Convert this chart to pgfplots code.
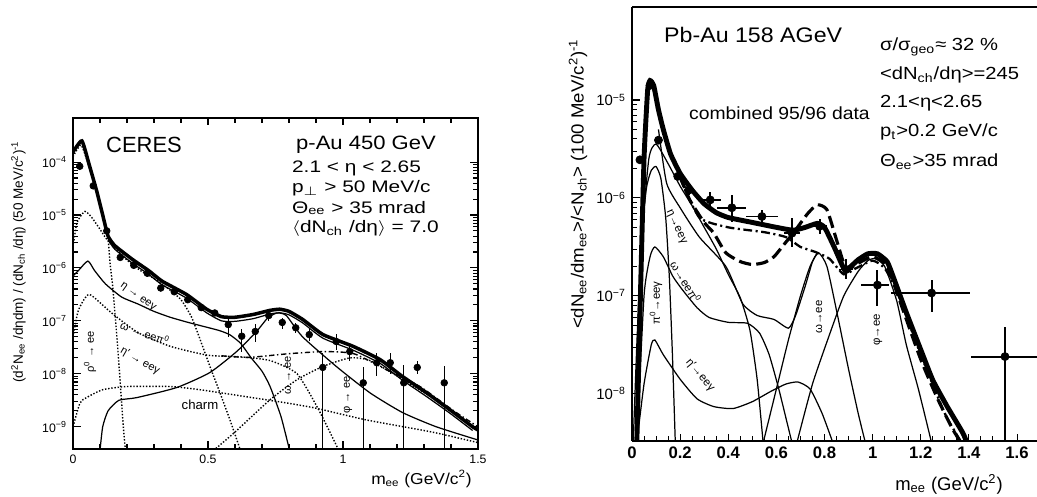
\documentclass[border=0pt]{standalone}
\usepackage{pgfplots}
\pgfplotsset{compat=1.18}
\usepackage{fontspec}
\setmainfont{Liberation Sans}

\tikzset{
  thin curve/.style={black, line width=0.7pt, smooth, tension=0.35},
  dot curve/.style={black, line width=0.8pt, densely dotted, smooth, tension=0.35},
  dd curve/.style={black, line width=0.8pt, dash pattern=on 3pt off 1.5pt on 0.8pt off 1.5pt, smooth, tension=0.35},
}
\newcommand\fs[1]{\fontsize{#1}{#1}\selectfont}
\newcommand\wide[2][1.2]{\scalebox{#1}[1]{#2}}

\begin{document}
\begin{tikzpicture}
\useasboundingbox (0,0) rectangle (20.74,9.94);

% ---------------- left: p-Au ----------------
\begin{axis}[name=L, at={(1.46cm,0.96cm)}, anchor=south west,
  scale only axis, enlargelimits=false, ymode=log,
  width=8.10cm, height=6.62cm,
  axis line style={line width=1.1pt},
  every tick/.style={black, line width=0.6pt}, tick align=inside,
  xmin=0, xmax=1.5, ymin=3.8e-10, ymax=6.8e-4,
  xtick={0,0.5,1,1.5}, xticklabels={0,0.5,1,1.5}, minor x tick num=4,
  ytick={1e-9,1e-8,1e-7,1e-6,1e-5,1e-4},
  yticklabels={10\textsuperscript{−9},10\textsuperscript{−8},10\textsuperscript{−7},10\textsuperscript{−6},10\textsuperscript{−5},10\textsuperscript{−4}},
  tick label style={font=\fs{7}},
]
% total
\addplot[black, line width=2pt, no marks, smooth, tension=0.3] coordinates {
 (0,1.55e-4) (0.033,2.51e-4) (0.06,8.91e-5) (0.089,2.69e-5) (0.11,1e-5) (0.13,3.98e-6)
 (0.155,2.63e-6) (0.22,1.45e-6) (0.28,8.91e-7) (0.33,5.62e-7) (0.42,3.16e-7) (0.495,1.66e-7)
 (0.55,1.2e-7) (0.6,1.17e-7) (0.667,1.32e-7) (0.73,1.58e-7) (0.766,1.66e-7) (0.8,1.51e-7)
 (0.85,1.07e-7) (0.926,5.5e-8) (1.037,3.31e-8) (1.137,1.86e-8) (1.22,8.91e-9) (1.31,4.37e-9)
 (1.396,2.09e-9) (1.48,1e-9) (1.5,8.71e-10)};
\addplot[thin curve, no marks] coordinates {
 (0.13,3.4e-6) (0.155,2.25e-6) (0.22,1.23e-6) (0.28,7.6e-7) (0.33,4.8e-7) (0.42,2.7e-7)
 (0.495,1.42e-7) (0.55,1.0e-7) (0.6,9.8e-8) (0.667,1.1e-7) (0.73,1.35e-7) (0.766,1.42e-7)
 (0.8,1.3e-7) (0.85,9.2e-8) (0.926,4.7e-8) (1.037,2.8e-8) (1.137,1.58e-8) (1.22,7.6e-9)
 (1.31,3.7e-9) (1.396,1.8e-9) (1.48,8.5e-10)};
% pi0 Dalitz
\addplot[dot curve, no marks] coordinates {
 (0,1.26e-4) (0.03,2.09e-4) (0.06,7.94e-5) (0.09,2.40e-5) (0.12,6.31e-6) (0.13,3.55e-6)
 (0.137,1.26e-6) (0.148,3.98e-7) (0.167,2.51e-8) (0.185,1.26e-9) (0.195,3.16e-10)};
% eta Dalitz
\addplot[dot curve, no marks] coordinates {
 (0,2.51e-6) (0.015,7.24e-6) (0.044,1.17e-5) (0.07,8.91e-6) (0.1,5.37e-6) (0.125,3.47e-6)
 (0.16,2.29e-6) (0.2,1.41e-6) (0.25,8.91e-7) (0.3,6.31e-7) (0.35,4.17e-7) (0.4,2.51e-7)
 (0.44,1.15e-7) (0.48,3.31e-8) (0.51,1.26e-8) (0.54,5.01e-9) (0.58,1.41e-9) (0.617,3.98e-10)};
% omega Dalitz
\addplot[thin curve, no marks] coordinates {
 (0,7.08e-7) (0.02,8.91e-7) (0.055,1.35e-6) (0.08,8.91e-7) (0.12,5.01e-7) (0.18,2.82e-7)
 (0.24,2.09e-7) (0.3,1.51e-7) (0.36,1.17e-7) (0.42,9.55e-8) (0.48,7.94e-8) (0.54,6.61e-8)
 (0.58,5.5e-8) (0.62,3.8e-8) (0.66,2.0e-8) (0.7,1.12e-8) (0.73,5.75e-9) (0.77,1.58e-9) (0.8,3.98e-10)};
% eta' Dalitz
\addplot[dot curve, no marks] coordinates {
 (0,5.01e-8) (0.02,1.58e-7) (0.06,3.16e-7) (0.14,1.45e-7) (0.24,6.03e-8) (0.36,3.31e-8)
 (0.5,2.24e-8) (0.62,2.09e-8) (0.73,1.78e-8) (0.83,1e-8) (0.91,2.09e-9) (0.98,3.98e-10)};
\addplot[dd curve, no marks] coordinates {
 (0.55,2.19e-8) (0.65,2.04e-8) (0.8,2.40e-8) (0.93,2.63e-8) (1.04,2.40e-8) (1.16,1.2e-8)
 (1.285,5.75e-9) (1.41,2.0e-9) (1.5,1e-9)};
% charm
\addplot[dot curve, no marks] coordinates {
 (0,1e-9) (0.026,2.82e-9) (0.05,3.55e-9) (0.11,5.01e-9) (0.2,5.75e-9) (0.36,5.75e-9)
 (0.47,5.01e-9) (0.6,3.98e-9) (0.79,2.82e-9) (0.9,2.24e-9) (1.085,1.35e-9) (1.33,7.94e-10) (1.5,5.01e-10)};
% rho/omega -> ee
\addplot[thin curve, no marks] coordinates {
 (0.1,3.55e-10) (0.11,1e-9) (0.13,2.0e-9) (0.17,3.16e-9) (0.236,3.55e-9) (0.384,5.5e-9)
 (0.506,1.05e-8) (0.606,2.63e-8) (0.68,6.31e-8) (0.72,1.12e-7) (0.755,1.41e-7) (0.79,1.26e-7)
 (0.85,5.01e-8) (0.975,1.38e-8) (1.1,4.37e-9) (1.22,1.86e-9) (1.345,1e-9) (1.5,5.62e-10)};
% phi -> ee
\addplot[dot curve, no marks] coordinates {
 (0.52,3.55e-10) (0.6,7.94e-10) (0.73,3.24e-9) (0.83,7.76e-9) (0.926,1.38e-8) (1.026,2.0e-8)
 (1.1,1.78e-8) (1.22,7.94e-9) (1.345,3.16e-9) (1.47,1.12e-9) (1.5,8.91e-10)};
% data
\addplot[only marks, mark=*, mark size=1.9pt, black,
  error bars/.cd, y dir=both, y explicit, error mark=none,
  error bar style={line width=0.8pt}]
coordinates {
 (0.025,8.32e-5) (0.075,3.55e-5) (0.125,5.01e-6) (0.175,1.58e-6) (0.225,1.12e-6)
 (0.275,7.94e-7) (0.325,4.17e-7) (0.375,3.55e-7) (0.425,2.51e-7) (0.475,1.78e-7)
 (0.525,1.41e-7)
 (0.575,8.51e-8) += (0,2.7e-8) -= (0,3.5e-8)
 (0.625,5.13e-8) += (0,1.95e-8) -= (0,2.6e-8)
 (0.675,6.31e-8) += (0,2.6e-8) -= (0,2.33e-8)
 (0.725,1.26e-7) += (0,2.5e-8) -= (0,2.6e-8)
 (0.775,9.33e-8) += (0,1.9e-8) -= (0,2.2e-8)
 (0.825,7.41e-8) += (0,1.8e-8) -= (0,1.6e-8)
 (0.875,5.5e-8) += (0,1.5e-8) -= (0,1.4e-8)
 (0.925,1.32e-8) += (0,1.19e-8) -= (0,1.31e-8)
 (0.975,4.07e-8) += (0,1.5e-8) -= (0,1.25e-8)
 (1.025,2.63e-8) += (0,1.17e-8) -= (0,8.5e-9)
 (1.075,6.76e-9) += (0,6.4e-9) -= (0,6.7e-9)
 (1.125,1.62e-8) += (0,8.9e-9) -= (0,7.3e-9)
 (1.175,1.62e-8) += (0,8.9e-9) -= (0,6.2e-9)
 (1.225,6.76e-9) += (0,8e-9) -= (0,6.7e-9)
 (1.275,1.32e-8) += (0,4.5e-9) -= (0,3.3e-9)
 (1.375,6.76e-9) += (0,7.4e-9) -= (0,6.7e-9)
};
\end{axis}

% ---------------- right: Pb-Au ----------------
\begin{axis}[name=R, at={(12.64cm,1.12cm)}, anchor=south west,
  scale only axis, enlargelimits=false, ymode=log,
  width=8.10cm, height=8.68cm,
  axis x line*=bottom, axis y line*=left,
  axis line style={line width=1.3pt},
  every tick/.style={black, line width=0.6pt}, tick align=inside,
  xmin=0, xmax=1.683, ymin=3.3e-9, ymax=8.9e-5,
  xtick={0,0.2,0.4,0.6,0.8,1,1.2,1.4,1.6},
  xticklabels={0,0.2,0.4,0.6,0.8,1,1.2,1.4,1.6}, minor x tick num=3,
  ytick={1e-8,1e-7,1e-6,1e-5},
  yticklabels={10\textsuperscript{−8},10\textsuperscript{−7},10\textsuperscript{−6},10\textsuperscript{−5}},
  xticklabel style={font=\fs{9.5}\bfseries},
  yticklabel style={font=\fs{8.5}},
]
% total
\addplot[black, line width=2.8pt, no marks, smooth, tension=0.3] coordinates {
 (0.02,3.16e-9) (0.035,1e-7) (0.05,2.51e-6) (0.065,1.26e-5) (0.075,1.58e-5) (0.09,1.41e-5)
 (0.11,7.94e-6) (0.13,5.01e-6) (0.16,2.82e-6) (0.2,1.78e-6) (0.25,1.20e-6) (0.3,8.71e-7)
 (0.35,7.08e-7) (0.4,6.31e-7) (0.5,5.62e-7) (0.6,5.01e-7) (0.67,4.68e-7) (0.72,5.01e-7)
 (0.77,5.5e-7) (0.8,5.01e-7) (0.84,3.16e-7) (0.88,1.91e-7) (0.9,1.91e-7) (0.94,2.34e-7)
 (0.98,2.69e-7) (1.02,2.69e-7) (1.06,2.24e-7) (1.085,1.58e-7) (1.14,6.76e-8) (1.2,2.82e-8)
 (1.25,1.38e-8) (1.31,7.41e-9) (1.375,3.98e-9) (1.4,2.82e-9)};
% dashed
\addplot[black, line width=1.8pt, dash pattern=on 7pt off 3pt, no marks, smooth, tension=0.35] coordinates {
 (0.2,1.66e-6) (0.24,9.55e-7) (0.3,5.62e-7) (0.34,4.37e-7) (0.39,2.75e-7) (0.45,2.24e-7)
 (0.5,2.09e-7) (0.55,2.19e-7) (0.59,2.51e-7) (0.63,3.31e-7) (0.67,4.37e-7) (0.73,6.92e-7)
 (0.77,8.51e-7) (0.81,7.59e-7) (0.85,3.72e-7) (0.89,1.86e-7) (0.93,2.09e-7) (1.0,2.51e-7)
 (1.06,2.0e-7) (1.12,7.94e-8) (1.2,2.24e-8) (1.27,8.91e-9) (1.33,4.47e-9) (1.38,2.82e-9)};
% dash-dot
\addplot[black, line width=1.3pt, dash pattern=on 5pt off 2pt on 1.2pt off 2pt, no marks, smooth, tension=0.35] coordinates {
 (0.2,1.58e-6) (0.28,6.31e-7) (0.4,5.01e-7) (0.55,4.47e-7) (0.64,3.98e-7) (0.7,3.16e-7)
 (0.76,2.82e-7) (0.82,2.40e-7) (0.88,1.66e-7) (0.93,1.91e-7) (1.0,2.29e-7) (1.05,1.91e-7)
 (1.1,1.12e-7) (1.2,2.51e-8) (1.3,6.31e-9) (1.37,3.16e-9)};
% pi0
\addplot[thin curve, no marks] coordinates {
 (0.005,3.16e-9) (0.02,3.16e-8) (0.04,3.98e-7) (0.06,1.26e-6) (0.08,1.91e-6) (0.1,2.09e-6)
 (0.12,1.58e-6) (0.14,6.31e-7) (0.155,1.58e-7) (0.168,2.51e-8) (0.18,3.16e-9)};
% eta
\addplot[thin curve, no marks] coordinates {
 (0.02,3.16e-9) (0.04,3.16e-7) (0.07,2.51e-6) (0.1,3.55e-6) (0.15,2.24e-6) (0.2,1.32e-6)
 (0.25,8.32e-7) (0.3,5.01e-7) (0.35,3.02e-7) (0.4,1.66e-7) (0.45,9.55e-8) (0.49,4.47e-8)
 (0.52,1.41e-8) (0.545,3.16e-9)};
% sum-like thin
\addplot[thin curve, no marks] coordinates {
 (0.11,5.01e-6) (0.144,1.41e-6) (0.2,7.94e-7) (0.28,3.98e-7) (0.39,2.0e-7) (0.46,8.32e-8)
 (0.52,6.31e-8) (0.59,5.75e-8) (0.65,4.68e-8) (0.68,6.31e-8) (0.72,1.26e-7) (0.75,2.24e-7) (0.77,2.75e-7)};
% omega Dalitz
\addplot[thin curve, no marks] coordinates {
 (0.02,3.16e-9) (0.05,1e-7) (0.075,2.51e-7) (0.095,3.16e-7) (0.13,2.51e-7) (0.17,1.58e-7)
 (0.21,1.15e-7) (0.27,7.59e-8) (0.32,6.03e-8) (0.4,5.37e-8) (0.48,5.25e-8) (0.53,4.17e-8)
 (0.57,2.51e-8) (0.61,1.12e-8) (0.645,5.01e-9) (0.665,3.16e-9)};
% eta' Dalitz
\addplot[thin curve, no marks] coordinates {
 (0.02,3.16e-9) (0.05,1.26e-8) (0.08,3.16e-8) (0.095,3.55e-8) (0.13,2.51e-8) (0.2,1.41e-8)
 (0.27,8.91e-9) (0.34,7.41e-9) (0.42,7.08e-9) (0.5,8.32e-9) (0.58,1.07e-8) (0.64,1.26e-8)
 (0.69,1.32e-8) (0.74,1.12e-8) (0.79,6.31e-9) (0.835,3.16e-9)};
% omega -> ee
\addplot[thin curve, no marks] coordinates {
 (0.545,3.16e-9) (0.6,1.12e-8) (0.65,3.55e-8) (0.7,1e-7) (0.74,2.0e-7) (0.775,2.75e-7)
 (0.81,2.0e-7) (0.85,7.08e-8) (0.9,1.78e-8) (0.94,6.31e-9) (0.97,3.16e-9)};
% phi -> ee
\addplot[thin curve, no marks] coordinates {
 (0.685,3.16e-9) (0.75,1.26e-8) (0.82,3.98e-8) (0.88,1e-7) (0.94,1.78e-7) (0.98,2.29e-7)
 (1.01,2.40e-7) (1.05,2.0e-7) (1.1,8.91e-8) (1.14,3.16e-8) (1.19,1.12e-8) (1.245,3.16e-9)};
% data
\addplot[only marks, mark=*, mark size=2.3pt, black,
  error bars/.cd, x dir=both, x explicit, y dir=both, y explicit, error mark=none,
  error bar style={line width=1.1pt}]
coordinates {
 (0.033,2.45e-6) += (0.008,0) -= (0.008,0)
 (0.075,1.41e-5)
 (0.11,3.89e-6)
 (0.19,1.66e-6) += (0.015,0) -= (0.015,0)
 (0.235,1.20e-6) += (0.02,1.5e-7) -= (0.02,1.3e-7)
 (0.325,9.55e-7) += (0.045,1.9e-7) -= (0.045,1.6e-7)
 (0.415,7.94e-7) += (0.06,2.8e-7) -= (0.06,2.3e-7)
 (0.54,6.46e-7) += (0.065,1.1e-7) -= (0.065,1.0e-7)
 (0.665,4.37e-7) += (0.035,1.9e-7) -= (0.035,1.2e-7)
 (0.78,5.13e-7) += (0.03,1.0e-7) -= (0.03,8e-8)
 (0.89,1.86e-7) += (0.03,5.2e-8) -= (0.03,3.9e-8)
 (1.02,1.29e-7) += (0.05,5.3e-8) -= (0.07,5.1e-8)
 (1.245,1.07e-7) += (0.16,3.8e-8) -= (0.17,3.9e-8)
 (1.55,2.40e-8) += (0.15,2.4e-8) -= (0.14,2.38e-8)
};
\end{axis}
\draw[line width=1.3pt] (R.north west) -- (R.north east);

% ---------------- texts, left ----------------
\node[anchor=west, font=\fs{12.5}] at (2.0,7.04) {CERES};
\node[anchor=west, font=\fs{11}] at (5.8,7.04) {\wide[1.14]{p-Au 450 GeV}};
\begin{scope}[every node/.style={anchor=west, font=\fs{9.5}, inner sep=1pt}]
\node at (5.8,6.58) {\wide[1.25]{2.1 < η < 2.65}};
\node at (5.8,6.18) {\wide[1.25]{p\textsubscript{$\perp$} > 50 MeV/c}};
\node at (5.8,5.78) {\wide[1.25]{Θ\textsubscript{ee} > 35 mrad}};
\node at (5.8,5.38) {\wide[1.25]{$\langle$dN\textsubscript{ch} /dη$\rangle$ = 7.0}};
\end{scope}
\node[rotate=90, font=\fs{7.7}] at (0.37,4.70)
  {(d\textsuperscript{2}N\textsubscript{ee} /dηdm) / (dN\textsubscript{ch} /dη) (50 MeV/c\textsuperscript{2})\textsuperscript{-1}};
\node[anchor=east, font=\fs{9}] at (9.56,0.36) {\wide[1.1]{m\textsubscript{ee} (GeV/c\textsuperscript{2})}};
\begin{scope}[every node/.style={font=\fs{6.3}, inner sep=0pt}]
\node[rotate=-36] at (2.76,4.00) {η → eeγ};
\node[rotate=-20] at (2.90,3.28) {ω → eeπ\textsuperscript{0}};
\node[rotate=-30] at (2.80,2.72) {η′ → eeγ};
\node[font=\fs{7.5}] at (4.00,1.84) {charm};
\node[rotate=90] at (1.80,2.90) {ρ\textsuperscript{0} → ee};
\node[rotate=90] at (5.76,2.44) {ω → ee};
\node[rotate=90] at (6.96,2.04) {φ → ee};
\end{scope}

% ---------------- texts, right ----------------
\node[anchor=west, font=\fs{12}] at (13.16,9.24) {\wide[1.1]{Pb-Au 158 AGeV}};
\node[anchor=west, font=\fs{10}] at (13.66,7.68) {\wide[1.1]{combined 95/96 data}};
\begin{scope}[every node/.style={anchor=west, font=\fs{10}, inner sep=1pt}]
\node at (17.56,9.00) {\wide[1.15]{σ/σ\textsubscript{geo}≈ 32 \%}};
\node at (17.56,8.44) {\wide[1.15]{<dN\textsubscript{ch}/dη>=245}};
\node at (17.56,7.88) {\wide[1.15]{2.1<η<2.65}};
\node at (17.56,7.30) {\wide[1.15]{p\textsubscript{t}>0.2 GeV/c}};
\node at (17.56,6.70) {\wide[1.15]{Θ\textsubscript{ee}>35 mrad}};
\end{scope}
\node[rotate=90, font=\fs{10}] at (11.56,6.26)
  {\wide[1.06]{<dN\textsubscript{ee}/dm\textsubscript{ee}>/<N\textsubscript{ch}> (100 MeV/c\textsuperscript{2})\textsuperscript{-1}}};
\node[font=\fs{10.5}] at (18.98,0.26) {m\textsubscript{ee} (GeV/c\textsuperscript{2})};
\begin{scope}[every node/.style={font=\fs{6.5}, inner sep=0pt}]
\node[rotate=90] at (13.12,3.88) {π\textsuperscript{0}→eeγ};
\node[rotate=-65] at (13.52,5.40) {η→eeγ};
\node[rotate=-58] at (13.72,4.30) {ω→eeπ\textsuperscript{0}};
\node[rotate=-50] at (14.00,2.44) {η′→eeγ};
\node[rotate=90] at (16.38,3.60) {ω→ee};
\node[rotate=90] at (17.56,3.34) {φ→ee};
\end{scope}
\end{tikzpicture}
\end{document}
